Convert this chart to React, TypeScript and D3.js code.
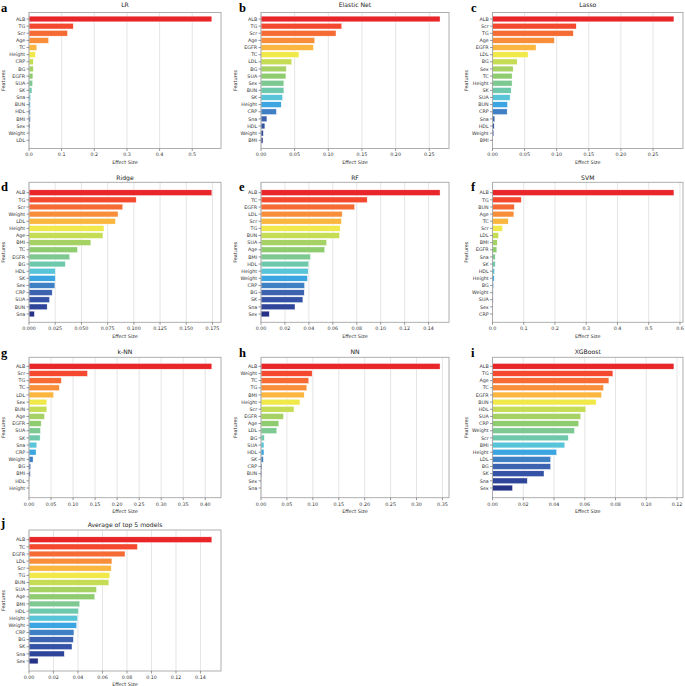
import React from 'react';
import * as d3 from 'd3';

// ---------- data ----------
const rankColors = [
  '#e8262a', '#f4492f', '#f66a34', '#f98e3a', '#fbb640', '#f1e84a',
  '#c5dc55', '#a6d164', '#8fcc70', '#7dc991', '#6ec8ac', '#58c4d8',
  '#3aa5e0', '#3f7fc4', '#3d62b0', '#3452a6', '#2f4599', '#263286',
];

const lrFeatures = ['ALB', 'TG', 'Scr', 'Age', 'TC', 'Height', 'CRP', 'BG', 'EGFR', 'SUA', 'SK', 'Sna', 'BUN', 'HDL', 'BMI', 'Sex', 'Weight', 'LDL'];
const lrValues = [0.56, 0.1355, 0.118, 0.06, 0.024, 0.0195, 0.013, 0.013, 0.012, 0.011, 0.009, 0.005, 0.004, 0.004, 0.004, 0.003, 0.001, 0.0005];
const lrTicks = [0, 0.1, 0.2, 0.3, 0.4, 0.5];

const enFeatures = ['ALB', 'TG', 'Scr', 'Age', 'EGFR', 'TC', 'LDL', 'BG', 'SUA', 'Sex', 'BUN', 'SK', 'Height', 'CRP', 'Sna', 'HDL', 'Weight', 'BMI'];
const enValues = [0.266, 0.12, 0.1114, 0.0798, 0.0778, 0.0564, 0.0457, 0.0375, 0.037, 0.034, 0.034, 0.032, 0.03, 0.0229, 0.0088, 0.0058, 0.0034, 0.0029];
const enTicks = [0, 0.05, 0.1, 0.15, 0.2, 0.25];

const lassoFeatures = ['ALB', 'Scr', 'TG', 'Age', 'EGFR', 'LDL', 'BG', 'Sex', 'TC', 'Height', 'SK', 'SUA', 'BUN', 'CRP', 'Sna', 'HDL', 'Weight', 'BMI'];
const lassoValues = [0.2826, 0.1304, 0.1258, 0.0963, 0.0678, 0.0554, 0.0383, 0.0321, 0.0305, 0.0305, 0.029, 0.0274, 0.0233, 0.0228, 0.0036, 0.0026, 0.002, 0.0003];
const lassoTicks = [0, 0.05, 0.1, 0.15, 0.2, 0.25];

const ridgeFeatures = ['ALB', 'TG', 'Scr', 'Weight', 'LDL', 'Height', 'Age', 'BMI', 'TC', 'EGFR', 'BG', 'HDL', 'SK', 'Sex', 'CRP', 'SUA', 'BUN', 'Sna'];
const ridgeValues = [0.1744, 0.1022, 0.0894, 0.0849, 0.0824, 0.0715, 0.0705, 0.059, 0.0462, 0.0388, 0.0346, 0.025, 0.025, 0.0247, 0.0221, 0.0196, 0.0173, 0.0051];
const ridgeTicks = [0, 0.025, 0.05, 0.075, 0.1, 0.125, 0.15, 0.175];

const rfFeatures = ['ALB', 'TC', 'EGFR', 'LDL', 'Scr', 'TG', 'BUN', 'SUA', 'Age', 'BMI', 'HDL', 'Height', 'Weight', 'CRP', 'BG', 'SK', 'Sna', 'Sex'];
const rfValues = [0.1496, 0.0887, 0.0782, 0.0678, 0.0672, 0.0661, 0.0656, 0.0548, 0.0532, 0.0413, 0.0399, 0.0394, 0.0388, 0.0364, 0.0361, 0.035, 0.0284, 0.0069];
const rfTicks = [0, 0.02, 0.04, 0.06, 0.08, 0.1, 0.12, 0.14];

const svmFeatures = ['ALB', 'TG', 'BUN', 'Age', 'TC', 'Scr', 'LDL', 'BMI', 'EGFR', 'Sna', 'SK', 'HDL', 'Height', 'BG', 'Weight', 'SUA', 'Sex', 'CRP'];
const svmValues = [0.5807, 0.092, 0.0695, 0.0684, 0.0503, 0.032, 0.0193, 0.015, 0.0139, 0.0086, 0.0086, 0.0064, 0.0053, 0.0032, 0.0021, 0.0021, 0.001, 0.0005];
const svmTicks = [0, 0.1, 0.2, 0.3, 0.4, 0.5, 0.6];

const knnFeatures = ['ALB', 'Scr', 'TG', 'TC', 'LDL', 'Sex', 'BUN', 'Age', 'EGFR', 'SUA', 'SK', 'Sna', 'CRP', 'Weight', 'BG', 'BMI', 'HDL', 'Height'];
const knnValues = [0.415, 0.1328, 0.0733, 0.0687, 0.0557, 0.0405, 0.0405, 0.0351, 0.0275, 0.026, 0.0252, 0.0176, 0.016, 0.0092, 0.0038, 0.003, 0.0004, 0.0002];
const knnTicks = [0, 0.05, 0.1, 0.15, 0.2, 0.25, 0.3, 0.35, 0.4];

const nnFeatures = ['ALB', 'Weight', 'TC', 'TG', 'BMI', 'Height', 'Scr', 'EGFR', 'Age', 'LDL', 'BG', 'SUA', 'HDL', 'SK', 'CRP', 'BUN', 'Sex', 'Sna'];
const nnValues = [0.3454, 0.0986, 0.0922, 0.0884, 0.0833, 0.0751, 0.0636, 0.0433, 0.0344, 0.0305, 0.0064, 0.0057, 0.0057, 0.0045, 0.0019, 0.0013, 0.0003, 0.0001];
const nnTicks = [0, 0.05, 0.1, 0.15, 0.2, 0.25, 0.3, 0.35];

const xgbFeatures = ['ALB', 'TG', 'Age', 'TC', 'EGFR', 'BUN', 'HDL', 'SUA', 'CRP', 'Weight', 'Scr', 'BMI', 'Height', 'LDL', 'BG', 'SK', 'Sna', 'Sex'];
const xgbValues = [0.118, 0.0783, 0.0757, 0.0722, 0.0709, 0.0674, 0.0607, 0.0574, 0.0561, 0.0533, 0.0493, 0.047, 0.0417, 0.0378, 0.0378, 0.0335, 0.0226, 0.013];
const xgbTicks = [0, 0.02, 0.04, 0.06, 0.08, 0.1, 0.12];

const avgFeatures = ['ALB', 'TC', 'EGFR', 'LDL', 'Scr', 'TG', 'BUN', 'SUA', 'Age', 'BMI', 'HDL', 'Height', 'Weight', 'CRP', 'BG', 'SK', 'Sna', 'Sex'];
const avgValues = [0.1493, 0.0885, 0.0784, 0.0677, 0.0671, 0.066, 0.0652, 0.0551, 0.0537, 0.0414, 0.0403, 0.0397, 0.0389, 0.0367, 0.0362, 0.0351, 0.0288, 0.0074];
const avgTicks = [0, 0.02, 0.04, 0.06, 0.08, 0.1, 0.12, 0.14];

// ---------- layout ----------
const colLeft = [29, 261, 492.5];
const colRight = [221, 449, 683];
const colLetterX = [1, 239, 471];
const rowFrame = [
  [12.5, 148.5],
  [182.3, 322.3],
  [357.3, 497.7],
  [530, 671],
];
const rowCenters = [
  [19, 140.3],
  [192.7, 314],
  [366.3, 488],
  [539.7, 661],
];
const rowTitleY = [5, 178.3, 351.7, 525.3];
const rowLetterY = [11.5, 191, 357, 527];

type PanelDef = {
  letter: string;
  title: string;
  features: string[];
  values: number[];
  ticks: number[];
  fmt: string;
  row: number;
  col: number;
};

const panels: PanelDef[] = [
  { letter: 'a', title: 'LR', features: lrFeatures, values: lrValues, ticks: lrTicks, fmt: '.1f', row: 0, col: 0 },
  { letter: 'b', title: 'Elastic Net', features: enFeatures, values: enValues, ticks: enTicks, fmt: '.2f', row: 0, col: 1 },
  { letter: 'c', title: 'Lasso', features: lassoFeatures, values: lassoValues, ticks: lassoTicks, fmt: '.2f', row: 0, col: 2 },
  { letter: 'd', title: 'Ridge', features: ridgeFeatures, values: ridgeValues, ticks: ridgeTicks, fmt: '.3f', row: 1, col: 0 },
  { letter: 'e', title: 'RF', features: rfFeatures, values: rfValues, ticks: rfTicks, fmt: '.2f', row: 1, col: 1 },
  { letter: 'f', title: 'SVM', features: svmFeatures, values: svmValues, ticks: svmTicks, fmt: '.1f', row: 1, col: 2 },
  { letter: 'g', title: 'k-NN', features: knnFeatures, values: knnValues, ticks: knnTicks, fmt: '.2f', row: 2, col: 0 },
  { letter: 'h', title: 'NN', features: nnFeatures, values: nnValues, ticks: nnTicks, fmt: '.2f', row: 2, col: 1 },
  { letter: 'i', title: 'XGBoost', features: xgbFeatures, values: xgbValues, ticks: xgbTicks, fmt: '.2f', row: 2, col: 2 },
  { letter: 'j', title: 'Average of top 5 models', features: avgFeatures, values: avgValues, ticks: avgTicks, fmt: '.2f', row: 3, col: 0 },
];

const FONT = 'DejaVu Sans, sans-serif';

function Panel({ p }: { p: PanelDef }) {
  const left = colLeft[p.col];
  const right = colRight[p.col];
  const [top, bottom] = rowFrame[p.row];
  const [c0, c1] = rowCenters[p.row];
  const n = p.features.length;
  const s = (c1 - c0) / (n - 1);
  const x = d3.scaleLinear().domain([0, (d3.max(p.values) as number) * 1.05]).range([left, right]);
  const y = d3.scaleBand<string>().domain(p.features).range([c0 - s / 2, c1 + s / 2]).paddingInner(0.2).paddingOuter(0.1);
  const fmt = d3.format(p.fmt);
  const cx = (left + right) / 2;
  const cy = (top + bottom) / 2;
  return (
    <g>
      {p.ticks.map((t) => (
        <line key={'g' + t} x1={x(t)} x2={x(t)} y1={top} y2={bottom} stroke="#e2e2e2" strokeWidth={0.9} />
      ))}
      {p.features.map((f, i) => (
        <rect
          key={f}
          x={x(0)}
          y={y(f)}
          width={Math.max(0, x(p.values[i]) - x(0))}
          height={y.bandwidth()}
          fill={rankColors[i]}
          stroke="#ffffff"
          strokeWidth={0.4}
        />
      ))}
      <rect x={left} y={top} width={right - left} height={bottom - top} fill="none" stroke="#a6a6a6" strokeWidth={0.9} />
      {p.features.map((f) => {
        const yy = (y(f) as number) + y.bandwidth() / 2;
        return (
          <g key={'yt' + f}>
            <line x1={left - 2.5} x2={left} y1={yy} y2={yy} stroke="#555" strokeWidth={0.6} />
            <text x={left - 3.8} y={yy} dy="0.35em" textAnchor="end" fontSize={4.8} fill="#333" fontFamily={FONT}>
              {f}
            </text>
          </g>
        );
      })}
      {p.ticks.map((t) => (
        <g key={'xt' + t}>
          <line x1={x(t)} x2={x(t)} y1={bottom} y2={bottom + 2.5} stroke="#555" strokeWidth={0.6} />
          <text x={x(t)} y={bottom + 6.3} dy="0.35em" textAnchor="middle" fontSize={4.8} fill="#333" fontFamily={FONT}>
            {fmt(t)}
          </text>
        </g>
      ))}
      <text x={cx} y={rowTitleY[p.row]} dy="0.35em" textAnchor="middle" fontSize={6.1} fill="#222" fontFamily={FONT}>
        {p.title}
      </text>
      <text x={cx} y={bottom + 13.5} dy="0.35em" textAnchor="middle" fontSize={4.9} fill="#333" fontFamily={FONT}>
        Effect Size
      </text>
      <text
        transform={`translate(${left - 26},${cy}) rotate(-90)`}
        dy="0.35em"
        textAnchor="middle"
        fontSize={4.9}
        fill="#333"
        fontFamily={FONT}
      >
        Features
      </text>
      <text x={colLetterX[p.col]} y={rowLetterY[p.row]} fontSize={12.5} fontWeight="bold" fill="#000" fontFamily="Liberation Serif, serif">
        {p.letter}
      </text>
    </g>
  );
}

export default function App() {
  return (
    <svg
      width={685}
      height={686}
      viewBox="0 0 685 686"
      style={{ position: 'absolute', left: 0, top: 0, background: '#fff' }}
    >
      <rect x={0} y={0} width={685} height={686} fill="#fff" />
      {panels.map((p) => (
        <Panel key={p.letter} p={p} />
      ))}
    </svg>
  );
}
